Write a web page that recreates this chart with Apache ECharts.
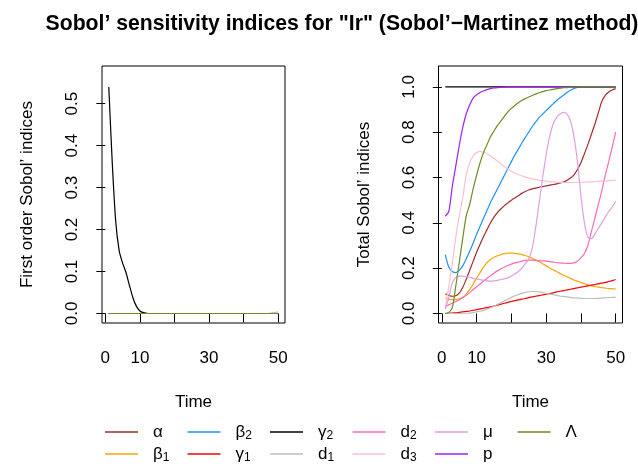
<!DOCTYPE html>
<html><head><meta charset="utf-8">
<script src="https://cdn.jsdelivr.net/npm/echarts@6/dist/echarts.min.js"></script>
<style>html,body{margin:0;padding:0;background:#fff}#c{width:638px;height:464px}</style>
</head><body><div id="c"></div>
<script>
// ---------- data ----------
const time = [1,2,3,4,5,6,7,8,9,10,11,12,13,14,15,16,17,18,19,20,21,22,23,24,25,26,27,28,29,30,31,32,33,34,35,36,37,38,39,40,41,42,43,44,45,46,47,48,49,50];
const paramNames = ['α','β1','β2','γ1','γ2','d1','d2','d3','μ','p','Λ'];
const xTicks = [0,10,20,30,40,50];
const xTickLabels = [0,10,30,50];
const yTicksFirst = [0,0.1,0.2,0.3,0.4,0.5];
const yTicksTotal = [0,0.2,0.4,0.6,0.8,1.0];

// first order indices
const firstAlpha  = [0,0,0,0,0,0,0,0,0,0,0,0,0,0,0,0,0,0,0,0,0,0,0,0,0,0,0,0,0,0,0,0,0,0,0,0,0,0,0,0,0,0,0,0,0,0,0,0,0,0];
const firstBeta1  = [0,0,0,0,0,0,0,0,0,0,0,0,0,0,0,0,0,0,0,0,0,0,0,0,0,0,0,0,0,0,0,0,0,0,0,0,0,0,0,0,0,0,0,0,0,0,0,0,0,0];
const firstBeta2  = [0,0,0,0,0,0,0,0,0,0,0,0,0,0,0,0,0,0,0,0,0,0,0,0,0,0,0,0,0,0,0,0,0,0,0,0,0,0,0,0,0,0,0,0,0,0,0,0,0,0];
const firstGamma1 = [0,0,0,0,0,0,0,0,0,0,0,0,0,0,0,0,0,0,0,0,0,0,0,0,0,0,0,0,0,0,0,0,0,0,0,0,0,0,0,0,0,0,0,0,0,0,0,0,0,0];
const firstGamma2 = [0.54,0.36,0.22,0.15,0.12,0.097,0.066,0.037,0.017,0.006,0.002,0.0005,0,0,0,0,0,0,0,0,0,0,0,0,0,0,0,0,0,0,0,0,0,0,0,0,0,0,0,0,0,0,0,0,0,0,0,0,0,0];
const firstD1     = [0,0,0,0,0,0,0,0,0,0,0,0,0,0,0,0,0,0,0,0,0,0,0,0,0,0,0,0,0,0,0,0,0,0,0,0,0,0,0,0,0,0,0,0,0,0,0,0.001,0.002,0.004];
const firstD2     = [0,0,0,0,0,0,0,0,0,0,0,0,0,0,0,0,0,0,0,0,0,0,0,0,0,0,0,0,0,0,0,0,0,0,0,0,0,0,0,0,0,0,0,0,0,0,0,0,0,0];
const firstD3     = [0,0,0,0,0,0,0,0,0,0,0,0,0,0,0,0,0,0,0,0,0,0,0,0,0,0,0,0,0,0,0,0,0,0,0,0,0,0,0,0,0,0,0,0,0,0,0,0,0,0];
const firstMu     = [0,0,0,0,0,0,0,0,0,0,0,0,0,0,0,0,0,0,0,0,0,0,0,0,0,0,0,0,0,0,0,0,0,0,0,0,0,0,0,0,0,0,0,0,0,0,0,0,0,0];
const firstP      = [0,0,0,0,0,0,0,0,0,0,0,0,0,0,0,0,0,0,0,0,0,0,0,0,0,0,0,0,0,0,0,0,0,0,0,0,0,0,0,0,0,0,0,0,0,0,0,0,0,0];
const firstLambda = [0,0,0,0,0,0,0,0,0,0,0,0,0,0,0,0,0,0,0,0,0,0,0,0,0,0,0,0,0,0,0,0,0,0,0,0,0,0,0,0,0,0,0,0,0,0,0,0,0,0];

// total indices
const totalAlpha  = [0.087,0.08,0.076,0.078,0.09,0.115,0.15,0.19,0.23,0.27,0.305,0.34,0.37,0.40,0.425,0.445,0.462,0.476,0.488,0.50,0.51,0.52,0.53,0.538,0.545,0.55,0.553,0.557,0.56,0.563,0.566,0.569,0.572,0.576,0.58,0.588,0.598,0.612,0.635,0.665,0.705,0.745,0.79,0.835,0.885,0.935,0.962,0.977,0.986,0.992];
const totalBeta1  = [0.069,0.062,0.061,0.062,0.065,0.07,0.085,0.105,0.13,0.157,0.18,0.205,0.224,0.238,0.248,0.255,0.26,0.264,0.266,0.266,0.265,0.263,0.26,0.256,0.25,0.243,0.236,0.228,0.219,0.21,0.201,0.193,0.185,0.177,0.169,0.162,0.155,0.148,0.142,0.136,0.131,0.126,0.122,0.119,0.116,0.114,0.112,0.11,0.109,0.108];
const totalBeta2  = [0.26,0.205,0.185,0.18,0.19,0.21,0.24,0.275,0.31,0.35,0.385,0.42,0.455,0.49,0.52,0.55,0.58,0.61,0.64,0.67,0.70,0.725,0.752,0.777,0.80,0.825,0.845,0.865,0.88,0.895,0.91,0.925,0.94,0.952,0.963,0.975,0.985,0.993,0.998,1,1,1,1,1,1,1,1,1,1,1];
const totalGamma1 = [0,0.001,0.002,0.003,0.005,0.007,0.009,0.011,0.014,0.017,0.02,0.023,0.026,0.029,0.033,0.037,0.041,0.045,0.049,0.053,0.057,0.06,0.063,0.066,0.07,0.073,0.076,0.079,0.082,0.085,0.088,0.091,0.095,0.098,0.101,0.104,0.107,0.11,0.113,0.116,0.119,0.122,0.125,0.128,0.131,0.134,0.137,0.141,0.145,0.15];
const totalGamma2 = [1,1,1,1,1,1,1,1,1,1,1,1,1,1,1,1,1,1,1,1,1,1,1,1,1,1,1,1,1,1,1,1,1,1,1,1,1,1,1,1,1,1,1,1,1,1,1,1,1,1];
const totalD1     = [0,0,0,0,0,0.001,0.001,0.002,0.004,0.007,0.01,0.014,0.019,0.025,0.032,0.04,0.048,0.056,0.064,0.071,0.078,0.084,0.089,0.093,0.096,0.097,0.097,0.095,0.092,0.089,0.086,0.083,0.08,0.077,0.075,0.073,0.071,0.069,0.068,0.067,0.066,0.066,0.066,0.066,0.067,0.068,0.069,0.07,0.071,0.072];
const totalD2     = [0.03,0.038,0.045,0.053,0.061,0.07,0.08,0.092,0.105,0.118,0.13,0.143,0.155,0.167,0.178,0.188,0.197,0.205,0.212,0.218,0.223,0.227,0.231,0.234,0.235,0.235,0.234,0.233,0.232,0.231,0.229,0.227,0.225,0.223,0.222,0.221,0.221,0.223,0.23,0.245,0.265,0.30,0.36,0.42,0.48,0.54,0.61,0.67,0.735,0.80];
const totalD3     = [0.025,0.12,0.22,0.335,0.43,0.51,0.61,0.665,0.695,0.71,0.715,0.712,0.705,0.695,0.685,0.672,0.66,0.648,0.638,0.628,0.62,0.613,0.607,0.602,0.598,0.594,0.591,0.588,0.586,0.584,0.582,0.581,0.58,0.579,0.578,0.578,0.578,0.578,0.578,0.579,0.579,0.58,0.581,0.582,0.583,0.584,0.585,0.586,0.587,0.588];
const totalMu     = [0.02,0.07,0.135,0.158,0.165,0.165,0.162,0.16,0.155,0.152,0.149,0.146,0.144,0.143,0.144,0.146,0.15,0.153,0.157,0.165,0.175,0.185,0.20,0.22,0.24,0.29,0.38,0.49,0.60,0.70,0.78,0.835,0.865,0.88,0.887,0.88,0.85,0.78,0.67,0.52,0.40,0.335,0.33,0.35,0.375,0.40,0.425,0.45,0.47,0.495];
const totalP      = [0.43,0.45,0.56,0.65,0.74,0.82,0.88,0.92,0.95,0.965,0.975,0.982,0.988,0.992,0.995,0.997,0.998,0.999,1,1,1,1,1,1,1,1,1,1,1,1,1,1,1,1,1,1,1,1,1,1,1,1,1,1,1,1,1,1,1,1];
const totalLambda = [0,0.005,0.025,0.12,0.224,0.33,0.43,0.48,0.55,0.61,0.665,0.71,0.745,0.78,0.805,0.83,0.85,0.87,0.89,0.905,0.918,0.93,0.94,0.948,0.955,0.962,0.968,0.974,0.979,0.983,0.986,0.989,0.992,0.994,0.996,0.997,0.998,0.999,1,1,1,1,1,1,1,1,1,1,1,1];

// ---------- styling / assembly ----------
const firstAll = [firstAlpha,firstBeta1,firstBeta2,firstGamma1,firstGamma2,firstD1,firstD2,firstD3,firstMu,firstP,firstLambda];
const totalAll = [totalAlpha,totalBeta1,totalBeta2,totalGamma1,totalGamma2,totalD1,totalD2,totalD3,totalMu,totalP,totalLambda];
const colors = ['#A52A2A','#FFA500','#1E90FF','#FF0000','#000000','#BEBEBE','#FF69B4','#FFC0CB','#DDA0DD','#A020F0','#6B8E23'];
const FONT = 'Liberation Sans, Arial, Helvetica, sans-serif';

function xAxisDef(gi){
  return {
    gridIndex: gi, type: 'value', min: -0.96, max: 51.96,
    axisLine: {show: false},
    axisTick: {show: true, inside: false, length: 9, customValues: xTicks, lineStyle: {color: '#000', width: 1}},
    axisLabel: {show: true, customValues: xTickLabels, margin: 27, fontSize: 17, color: '#000', fontFamily: FONT},
    splitLine: {show: false},
    name: 'Time', nameLocation: 'middle', nameGap: 71,
    nameTextStyle: {fontSize: 17, color: '#000', fontFamily: FONT}
  };
}
function yAxisDef(gi, min, max, ticks, title){
  return {
    gridIndex: gi, type: 'value', min: min, max: max,
    axisLine: {show: false},
    axisTick: {show: true, inside: false, length: 9, customValues: ticks, lineStyle: {color: '#000', width: 1}},
    axisLabel: {show: true, customValues: ticks, rotate: 90, margin: 21, fontSize: 17, color: '#000', fontFamily: FONT,
      formatter: v => Number(v).toFixed(1)},
    splitLine: {show: false},
    name: title, nameLocation: 'middle', nameGap: 66, nameRotate: 90,
    nameTextStyle: {fontSize: 17, color: '#000', fontFamily: FONT}
  };
}

const series = [];
paramNames.forEach((nm, i) => {
  series.push({
    name: nm, type: 'line', xAxisIndex: 0, yAxisIndex: 0, showSymbol: false, symbol: 'none',
    smooth: 0.2,
    data: time.map((t, j) => [t, firstAll[i][j]]),
    lineStyle: {color: colors[i], width: 1.2}, itemStyle: {color: colors[i]}
  });
});
paramNames.forEach((nm, i) => {
  series.push({
    name: nm, type: 'line', xAxisIndex: 1, yAxisIndex: 1, showSymbol: false, symbol: 'none',
    smooth: 0.3,
    data: time.map((t, j) => [t, totalAll[i][j]]),
    lineStyle: {color: colors[i], width: 1.2}, itemStyle: {color: colors[i]}
  });
});

const legendCols = [['α','β1'],['β2','γ1'],['γ2','d1'],['d2','d3'],['μ','p'],['Λ']];
const legendLeft = [105, 187.5, 270, 352.5, 435, 517.5];
const legendFormatter = name => {
  const m = name.match(/^(.*?)(\d)$/);
  return m ? '{b|' + m[1] + '}{s|' + m[2] + '}' : '{b|' + name + '}';
};
const legends = legendCols.map((cols, k) => ({
  orient: 'vertical', left: legendLeft[k], top: 422, height: 60, padding: 0, data: cols,
  icon: 'rect', itemWidth: 33, itemHeight: 1.3, itemGap: 2,
  formatter: legendFormatter,
  textStyle: {
    color: '#000', fontSize: 17, fontFamily: FONT, lineHeight: 20, padding: [0,0,0,10],
    rich: {
      b: {fontSize: 17, fontFamily: FONT, color: '#000', lineHeight: 20},
      s: {fontSize: 12, fontFamily: FONT, color: '#000', lineHeight: 20, padding: [8,0,0,0]}
    }
  }
}));

const chart = echarts.init(document.getElementById('c'), null, {renderer: 'canvas'});
chart.setOption({
  animation: false,
  backgroundColor: '#fff',
  title: {
    text: 'Sobol\u2019 sensitivity indices for "Ir" (Sobol\u2019\u2212Martinez method)',
    left: 337, top: 9, textAlign: 'center',
    textStyle: {fontSize: 21.2, fontWeight: 'bold', color: '#000', fontFamily: FONT}
  },
  grid: [
    {left: 102, top: 66, width: 183, height: 257, show: true, borderColor: '#000', borderWidth: 1, backgroundColor: 'transparent'},
    {left: 438.5, top: 66, width: 184, height: 257, show: true, borderColor: '#000', borderWidth: 1, backgroundColor: 'transparent'}
  ],
  xAxis: [xAxisDef(0), xAxisDef(1)],
  yAxis: [
    yAxisDef(0, -0.02268, 0.58968, yTicksFirst, 'First order Sobol\u2019 indices'),
    yAxisDef(1, -0.042, 1.092, yTicksTotal, 'Total Sobol\u2019 indices')
  ],
  legend: legends,
  series: series
});
</script>
</body></html>
